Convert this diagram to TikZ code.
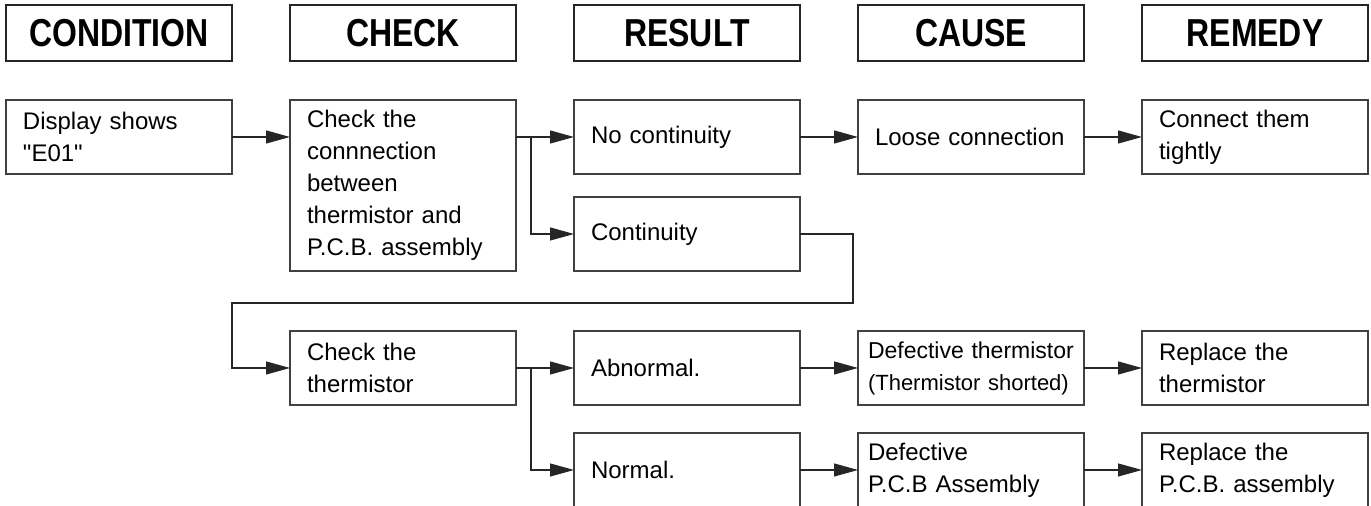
\documentclass[tikz,border=0pt]{standalone}
\usepackage{fontspec}
\setmainfont{Liberation Sans}[Ligatures=TeXOff]
\newfontfamily\headfont[FakeStretch=0.82]{Liberation Sans}
\usetikzlibrary{arrows.meta, positioning, calc}
\tikzset{
  node distance=19.5pt and 29pt,
  >={Triangle[length=12pt, width=6.5pt]},
  hd/.style={rectangle, draw=black!85, line width=0.9pt, minimum width=113pt,
             minimum height=28pt, inner sep=0pt, outer sep=0pt,
             font=\headfont\bfseries\fontsize{19.5pt}{20pt}\selectfont},
  box/.style={rectangle, draw=black!75, line width=0.6pt, minimum width=113pt,
              minimum height=37pt, inner xsep=8.5pt, inner ysep=2pt, outer sep=0pt,
              text width=96pt, align=left, font=\fontsize{12pt}{16pt}\selectfont},
  boxn/.style={box, inner xsep=5pt, text width=103pt},
  flow/.style={->, line width=0.55pt, draw=black!85},
}
\begin{document}
\begin{tikzpicture}[x=0.5pt, y=-0.5pt]
  \useasboundingbox (0,0) rectangle (1371,506);
  \clip (0,0) rectangle (1371,506);
  \node[hd, anchor=north west] (condhd) at (6,5) {CONDITION};
  \node[hd, right=of condhd] (checkhd) {CHECK};
  \node[hd, right=of checkhd] (resulthd) {RESULT};
  \node[hd, right=of resulthd] (causehd) {CAUSE};
  \node[hd, right=of causehd] (remedyhd) {REMEDY};

  \node[box, below=of condhd] (display) {Display shows\\"E01"};
  \node[box, below=of checkhd, minimum height=85.5pt] (checkconn) {Check the\\connnection\\between\\thermistor and\\P.C.B. assembly};
  \node[box, below=of resulthd] (nocont) {No continuity};
  \node[box, below=of causehd] (loose) {Loose connection};
  \node[box, below=of remedyhd] (tighten) {Connect them\\tightly};
  \node[box, below=11.5pt of nocont] (contin) {Continuity};

  \node[box, below=30pt of checkconn] (checktherm) {Check the\\thermistor};
  \node[box, right=of checktherm] (abnormal) {Abnormal.};
  \node[boxn, right=of abnormal, font=\fontsize{11.5pt}{16pt}\selectfont] (deftherm) {Defective thermistor\\\fontsize{11pt}{16pt}\selectfont(Thermistor shorted)};
  \node[box, right=of deftherm] (replthm) {Replace the\\thermistor};
  \node[box, below=14pt of abnormal] (normal) {Normal.};
  \node[boxn, below=14pt of deftherm] (defpcb) {Defective\\P.C.B Assembly};
  \node[box, below=14pt of replthm] (replpcb) {Replace the\\P.C.B. assembly};

  \draw[flow] (display.east) -- (display.east -| checkconn.west);
  \draw[flow] (checkconn.east |- nocont) -- (nocont);
  \draw[flow] ($(checkconn.east |- nocont)+(15,0)$) |- (contin);
  \draw[flow] (nocont) -- (loose);
  \draw[flow] (loose) -- (tighten);
  \coordinate (back) at ($(contin.south)+(0,32)$);
  \draw[flow] (contin.east) -- ++(53,0) |- (back -| display.east) |- (checktherm);
  \draw[flow] (checktherm) -- (abnormal);
  \draw[flow] ($(checktherm.east)+(15,0)$) |- (normal);
  \draw[flow] (abnormal) -- (deftherm);
  \draw[flow] (deftherm) -- (replthm);
  \draw[flow] (normal) -- (defpcb);
  \draw[flow] (defpcb) -- (replpcb);
\end{tikzpicture}
\end{document}
